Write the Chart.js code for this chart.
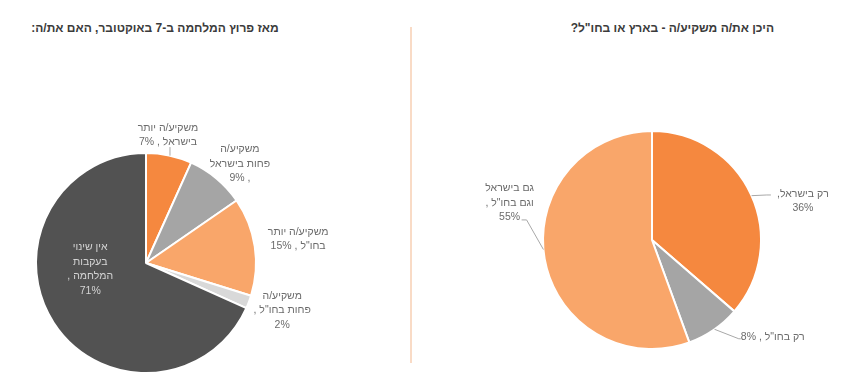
<!DOCTYPE html>
<html><head><meta charset="utf-8">
<script src="https://cdn.jsdelivr.net/npm/chart.js@4.4.1/dist/chart.umd.min.js"></script>
<style>
html,body{margin:0;padding:0;background:#fff;width:846px;height:382px;overflow:hidden;font-family:"Liberation Sans",Arial,sans-serif}
.title{position:absolute;top:21px;font-weight:bold;font-size:12px;color:#3b3b3b;direction:rtl;text-align:center;white-space:nowrap}
#divider{position:absolute;left:410px;top:27px;width:2px;height:336px;background:#f9dbc6}
.box{position:absolute}
</style></head><body>
<div class="title" id="t1" style="left:0;width:310px"></div>
<div class="title" id="t2" style="left:576px;width:198px"></div>
<div id="divider"></div>
<div class="box" style="left:0;top:40px;width:410px;height:342px"><canvas id="c1"></canvas></div>
<div class="box" style="left:412px;top:40px;width:434px;height:342px"><canvas id="c2"></canvas></div>
<script>
// ---- data ----
const leftTitle = 'מאז פרוץ המלחמה ב-7 באוקטובר, האם את/ה:';
const rightTitle = 'היכן את/ה משקיע/ה - בארץ או בחו"ל?';
const leftCategories = ['משקיע/ה יותר בישראל','משקיע/ה פחות בישראל','משקיע/ה יותר בחו"ל','משקיע/ה פחות בחו"ל','אין שינוי בעקבות המלחמה'];
const leftValues = [7, 9, 15, 2, 71];
const leftLabelLines = [
  ['משקיע/ה יותר','בישראל , {v}'],
  ['משקיע/ה','פחות בישראל',', {v}'],
  ['משקיע/ה יותר','בחו"ל , {v}'],
  ['משקיע/ה','פחות בחו"ל ,','{v}'],
  ['אין שינוי','בעקבות','המלחמה ,','{v}']
];
const rightCategories = ['רק בישראל','רק בחו"ל','גם בישראל וגם בחו"ל'];
const rightValues = [36, 8, 55];
const rightLabelLines = [
  ['רק בישראל,','{v}'],
  ['רק בחו"ל , {v}'],
  ['גם בישראל','וגם בחו"ל ,','{v}']
];
const leftColors = ['#f5883f','#a5a5a5','#f9a66a','#d9d9d9','#525252'];
const rightColors = ['#f5883f','#a5a5a5','#f9a66a'];

// ---- label layout (polar, relative to each pie) ----
const leftLabelPos = [
  {ang: 9.75, r: 1.18, color:'#6b6b6b', leader:{from:12.6, to:[2,12]}},
  {ang: 43.5, r: 1.24, color:'#6b6b6b'},
  {ang: 81.0, r: 1.40, color:'#6b6b6b'},
  {ang: 109.1, r: 1.31, color:'#6b6b6b'},
  {ang: 263.9, r: 0.51, color:'#d4d4d4'}
];
const rightLabelPos = [
  {ang: 75.5, r: 1.43, color:'#6b6b6b', leader:{from:66, pts:[[-36,-6],[-32,-6]]}},
  {ang: 128.7, r: 1.42, color:'#6b6b6b', leader:{from:145, pts:[[-34,2],[-32,2]]}},
  {ang: 284.6, r: 1.35, color:'#6b6b6b', leader:{from:265, pts:[[17,17],[12,17]]}}
];

document.getElementById('t1').textContent = leftTitle;
document.getElementById('t2').textContent = rightTitle;

function labelPlugin(lines, values, pos) {
  return {
    id: 'pieLabels',
    afterDatasetsDraw(chart) {
      const ctx = chart.ctx;
      const arcs = chart.getDatasetMeta(0).data;
      ctx.save();
      ctx.font = '10.5px "Liberation Sans", Arial, sans-serif';
      ctx.direction = 'rtl';
      ctx.textAlign = 'center';
      ctx.textBaseline = 'middle';
      arcs.forEach((arc, i) => {
        const p = pos[i];
        const R = arc.outerRadius;
        const a = p.ang * Math.PI / 180 - Math.PI / 2;
        const lx = arc.x + Math.cos(a) * R * p.r;
        const ly = arc.y + Math.sin(a) * R * p.r;
        if (p.leader) {
          const fa = p.leader.from * Math.PI / 180 - Math.PI / 2;
          ctx.beginPath();
          ctx.strokeStyle = '#a8a8a8';
          ctx.lineWidth = 1;
          ctx.moveTo(arc.x + Math.cos(fa) * R, arc.y + Math.sin(fa) * R);
          if (p.leader.pts) {
            p.leader.pts.forEach(pt => ctx.lineTo(lx + pt[0], ly + pt[1]));
          } else {
            ctx.lineTo(lx + p.leader.to[0], ly + p.leader.to[1]);
          }
          ctx.stroke();
        }
        const ls = lines[i].map(s => s.replace('{v}', values[i] + '%'));
        const lh = 14.5;
        const y0 = ly - (ls.length - 1) * lh / 2;
        ctx.fillStyle = p.color;
        ls.forEach((s, k) => ctx.fillText(s, lx, y0 + k * lh));
      });
      ctx.restore();
    }
  };
}

function makePie(id, cats, vals, colors, radius, padding, lines, pos) {
  return new Chart(document.getElementById(id), {
    type: 'pie',
    data: {
      labels: cats,
      datasets: [{ data: vals, backgroundColor: colors, borderColor: '#ffffff', borderWidth: 2 }]
    },
    options: {
      responsive: true,
      maintainAspectRatio: false,
      animation: false,
      radius: radius,
      layout: { padding: padding },
      plugins: { legend: { display: false }, tooltip: { enabled: false }, title: { display: false } }
    },
    plugins: [labelPlugin(lines, vals, pos)]
  });
}

makePie('c1', leftCategories, leftValues, leftColors, 110, {left:36, right:154, top:113, bottom:9}, leftLabelLines, leftLabelPos);
makePie('c2', rightCategories, rightValues, rightColors, 109, {left:132, right:86, top:91, bottom:33}, rightLabelLines, rightLabelPos);
</script>
</body></html>
